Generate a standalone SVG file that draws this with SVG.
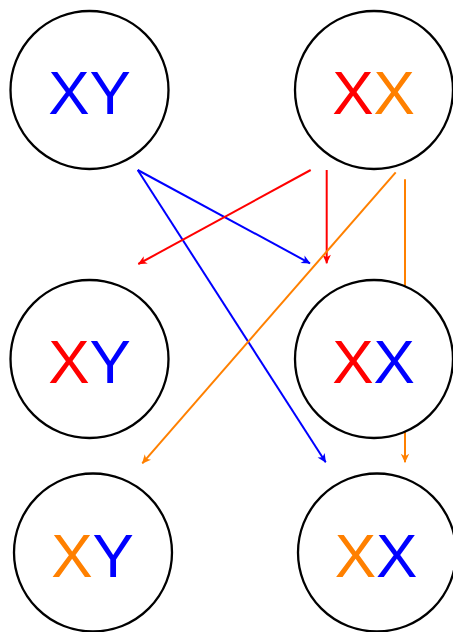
<svg xmlns="http://www.w3.org/2000/svg" width="453" height="632" viewBox="0 0 453 632">
<style>
.node circle{fill:#fff;stroke:#000;stroke-width:2.3}
.node text{font-family:"Liberation Sans",Arial,sans-serif;font-size:62px;text-anchor:middle}
.r{fill:#ff0000}.b{fill:#0000ff}.o{fill:#ff8000}
.edge{fill:none;stroke-width:2}
</style>
<defs>
<marker id="mB" viewBox="-10 -5 11 10" refX="0" refY="0" markerWidth="11" markerHeight="10" markerUnits="userSpaceOnUse" orient="auto"><path d="M0.5,0 L-8.5,-4.2 L-6,0 L-8.5,4.2 z" fill="#0000ff"/></marker>
<marker id="mR" viewBox="-10 -5 11 10" refX="0" refY="0" markerWidth="11" markerHeight="10" markerUnits="userSpaceOnUse" orient="auto"><path d="M0.5,0 L-8.5,-4.2 L-6,0 L-8.5,4.2 z" fill="#ff0000"/></marker>
<marker id="mO" viewBox="-10 -5 11 10" refX="0" refY="0" markerWidth="11" markerHeight="10" markerUnits="userSpaceOnUse" orient="auto"><path d="M0.5,0 L-8.5,-4.2 L-6,0 L-8.5,4.2 z" fill="#ff8000"/></marker>
</defs>
<g id="connectors">
<line class="edge" x1="137.7" y1="170" x2="310" y2="263.3" stroke="#0000ff" marker-end="url(#mB)"/>
<line class="edge" x1="137.7" y1="170" x2="325.7" y2="462.3" stroke="#0000ff" marker-end="url(#mB)"/>
<line class="edge" x1="310.7" y1="170" x2="138.3" y2="264" stroke="#ff0000" marker-end="url(#mR)"/>
<line class="edge" x1="326.7" y1="170" x2="326.7" y2="263.3" stroke="#ff0000" marker-end="url(#mR)"/>
<line class="edge" x1="395.7" y1="172.3" x2="142.3" y2="463.3" stroke="#ff8000" marker-end="url(#mO)"/>
<line class="edge" x1="405" y1="179.3" x2="405" y2="462.3" stroke="#ff8000" marker-end="url(#mO)"/>
</g>
<g id="n1" class="node"><circle cx="89.5" cy="90" r="79"/><text x="89.5" y="114"><tspan class="b">XY</tspan></text></g>
<g id="n2" class="node"><circle cx="374" cy="90" r="79"/><text x="373.5" y="114"><tspan class="r">X</tspan><tspan class="o">X</tspan></text></g>
<g id="n3" class="node"><circle cx="89.5" cy="359" r="79"/><text x="89.5" y="383"><tspan class="r">X</tspan><tspan class="b">Y</tspan></text></g>
<g id="n4" class="node"><circle cx="374" cy="359" r="79"/><text x="373.5" y="383"><tspan class="r">X</tspan><tspan class="b">X</tspan></text></g>
<g id="n5" class="node"><circle cx="93" cy="552.5" r="79"/><text x="92.5" y="577"><tspan class="o">X</tspan><tspan class="b">Y</tspan></text></g>
<g id="n6" class="node"><circle cx="377" cy="552.5" r="79"/><text x="376" y="577"><tspan class="o">X</tspan><tspan class="b">X</tspan></text></g>
</svg>
